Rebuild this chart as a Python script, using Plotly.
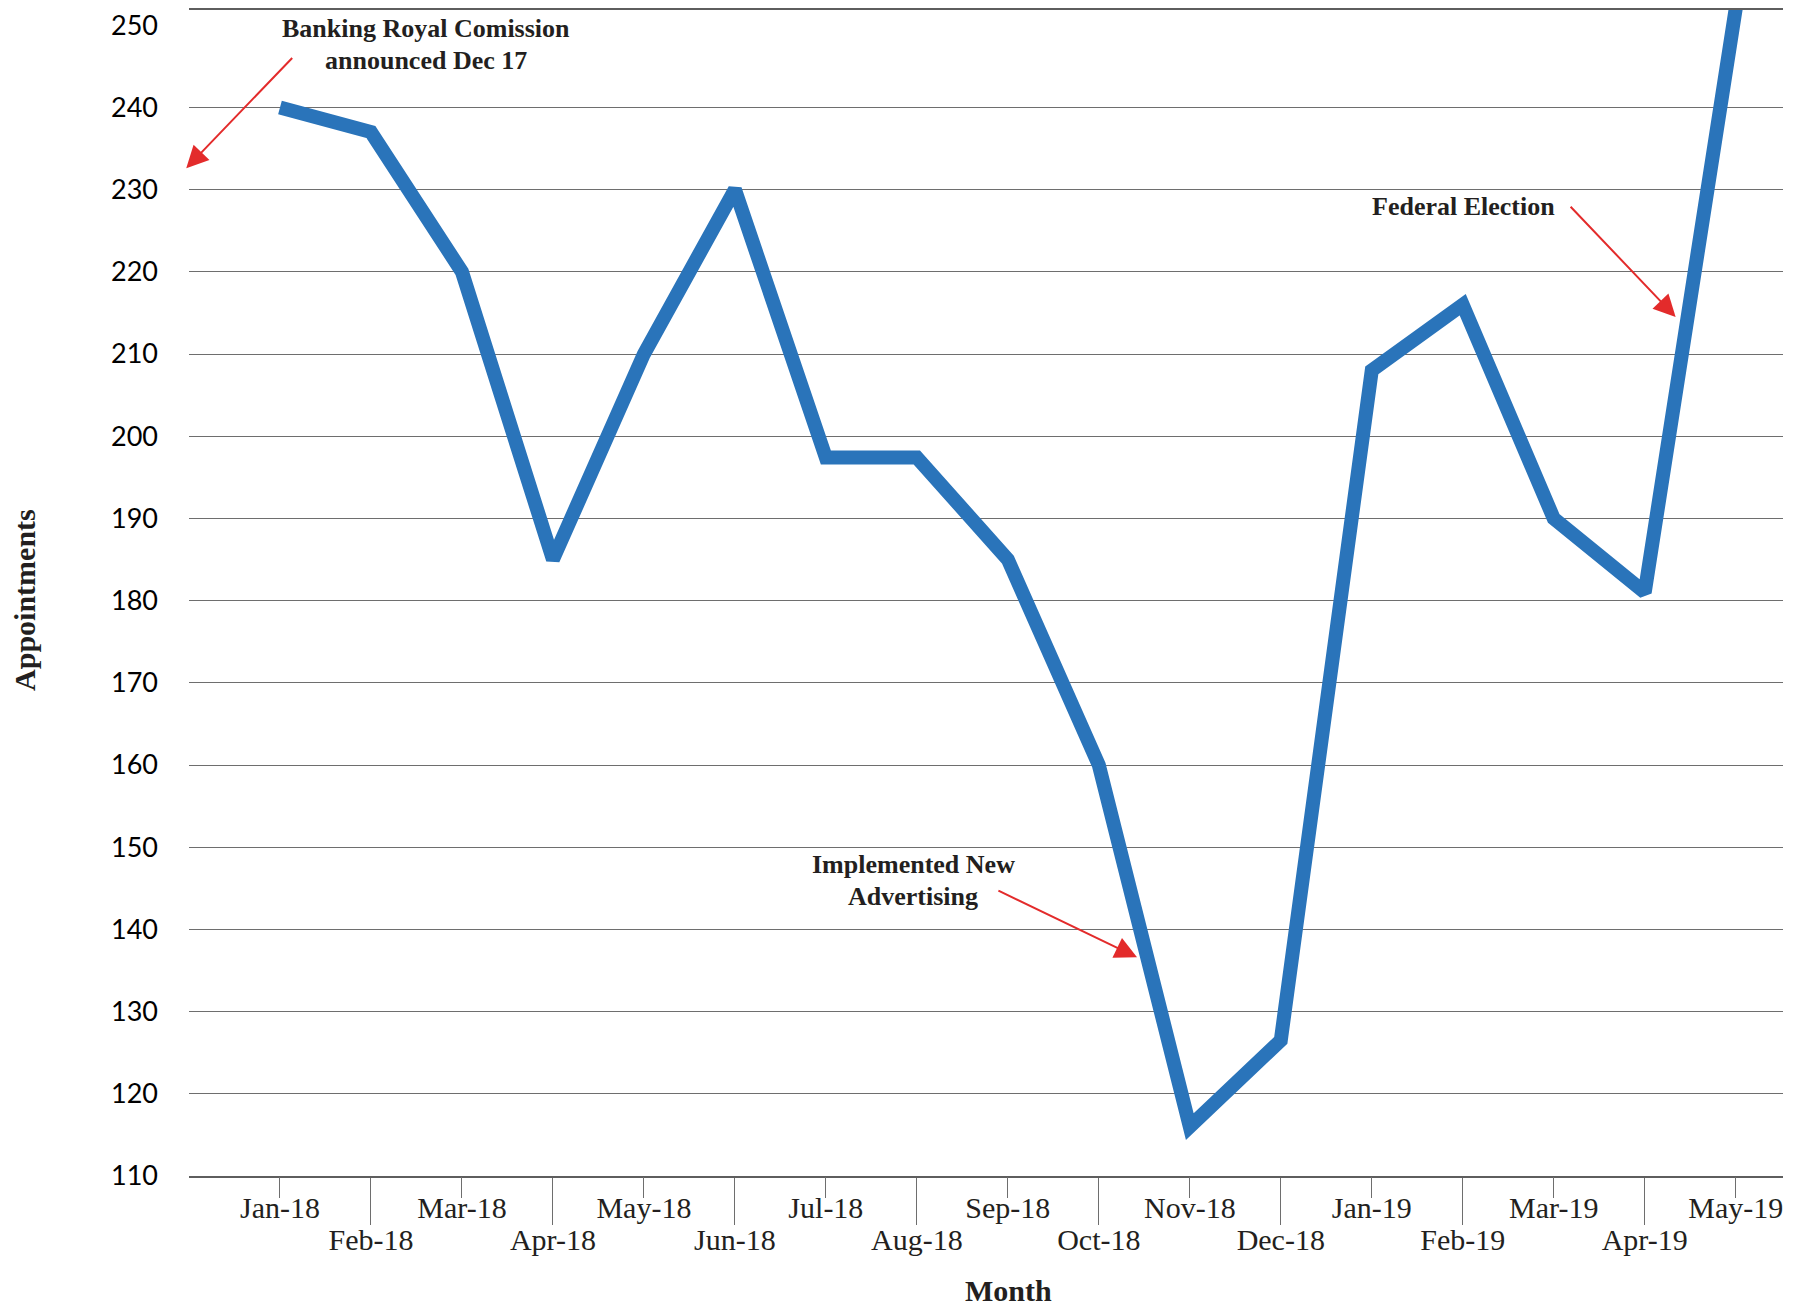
import plotly.graph_objects as go

# ---- data ----
months = ["Jan-18", "Feb-18", "Mar-18", "Apr-18", "May-18", "Jun-18", "Jul-18", "Aug-18",
          "Sep-18", "Oct-18", "Nov-18", "Dec-18", "Jan-19", "Feb-19", "Mar-19", "Apr-19", "May-19"]
appointments = [240, 237, 220, 185, 210, 230, 197.4, 197.4, 185, 160, 116, 126.5,
                208, 216, 190, 181, 252]
y_tick_vals = [110, 120, 130, 140, 150, 160, 170, 180, 190, 200, 210, 220, 230, 240, 250]
grid_vals = [120, 130, 140, 150, 160, 170, 180, 190, 200, 210, 220, 230, 240]

idx = list(range(len(months)))
x_range = [-1.0, 16.52]
y_range = [110, 251.85]

BLUE = "#2A74BA"
RED = "#E32B2B"
GRID = "#6e6e6e"
TXT = "#231F20"
SERIF = "Liberation Serif"

fig = go.Figure()
# helper (invisible) traces so the overlaid axes (grid / first label row) are drawn
fig.add_trace(go.Scatter(x=idx, y=appointments, xaxis="x", yaxis="y2", mode="markers",
                         marker=dict(opacity=0, size=1), hoverinfo="skip", showlegend=False))
fig.add_trace(go.Scatter(x=idx, y=appointments, xaxis="x2", yaxis="y", mode="markers",
                         marker=dict(opacity=0, size=1), hoverinfo="skip", showlegend=False))
# main line
fig.add_trace(go.Scatter(
    x=idx, y=appointments, mode="lines",
    line=dict(color=BLUE, width=14),
    hoverinfo="skip", showlegend=False,
))

tick_font = dict(family=SERIF, size=30, color=TXT)

fig.update_layout(
    width=1796, height=1306,
    margin=dict(l=189, r=13, t=8, b=130),
    plot_bgcolor="white", paper_bgcolor="white",
    showlegend=False,
    xaxis=dict(
        range=x_range, tickmode="array",
        tickvals=idx[1::2], ticktext=months[1::2],
        ticks="outside", ticklen=47, tickwidth=1, tickcolor=GRID,
        ticklabelstandoff=-11,
        showgrid=False, zeroline=False,
        showline=True, linecolor="#5e5e5e", linewidth=1.5, mirror=True,
        tickfont=tick_font, fixedrange=True,
    ),
    xaxis2=dict(
        overlaying="x", anchor="y", side="bottom",
        range=x_range, tickmode="array",
        tickvals=idx[0::2], ticktext=months[0::2],
        ticks="outside", ticklen=21, tickwidth=1, tickcolor=GRID,
        ticklabelstandoff=-16,
        showgrid=False, zeroline=False, showline=False,
        tickfont=tick_font, fixedrange=True,
    ),
    yaxis=dict(
        range=y_range, tickmode="array", tickvals=y_tick_vals,
        showgrid=False, zeroline=False, showline=False, ticks="",
        ticklabelstandoff=30,
        tickfont=dict(family="Lato", size=27, color="black"), fixedrange=True,
    ),
    yaxis2=dict(
        overlaying="y", anchor="x", side="left",
        range=y_range, tickmode="array", tickvals=grid_vals,
        showgrid=True, gridcolor=GRID, gridwidth=1.3,
        showticklabels=False, zeroline=False, showline=False, ticks="",
        fixedrange=True,
    ),
)

ann_font = dict(family=SERIF, size=26, color=TXT)
bold = lambda s: "<b>" + s + "</b>"

# axis titles
fig.add_annotation(text=bold("Month"), xref="paper", yref="paper", x=0.514, y=-0.0985,
                   showarrow=False, xanchor="center", yanchor="middle",
                   font=dict(family=SERIF, size=30, color=TXT))
fig.add_annotation(text=bold("Appointments"), xref="paper", yref="paper", x=-0.1029, y=0.494,
                   showarrow=False, textangle=-90, xanchor="center", yanchor="middle",
                   font=dict(family=SERIF, size=30, color=TXT))

# callout texts (one annotation per line)
callouts = [
    ("Banking Royal Comission", 1.61, 249.6),
    ("announced Dec 17", 1.61, 245.7),
    ("Federal Election", 13.01, 228.0),
    ("Implemented New", 6.96, 147.9),
    ("Advertising", 6.96, 144.0),
]
for text, cx, cy in callouts:
    fig.add_annotation(text=bold(text), x=cx, y=cy, xref="x", yref="y", showarrow=False,
                       xanchor="center", yanchor="middle", font=ann_font)

# callout arrows (tail -> head)
arrows = [
    (0.15, 246.2, -1.03, 232.6),
    (14.17, 228.1, 15.34, 214.5),
    (7.88, 144.8, 9.42, 136.6),
]
for tx, ty, hx, hy in arrows:
    fig.add_annotation(text="", x=hx, y=hy, xref="x", yref="y",
                       ax=tx, ay=ty, axref="x", ayref="y",
                       showarrow=True, arrowhead=2, arrowsize=2.2, arrowwidth=2,
                       arrowcolor=RED, standoff=0, startstandoff=0)

fig.write_html("out.html", config={"displayModeBar": False})
